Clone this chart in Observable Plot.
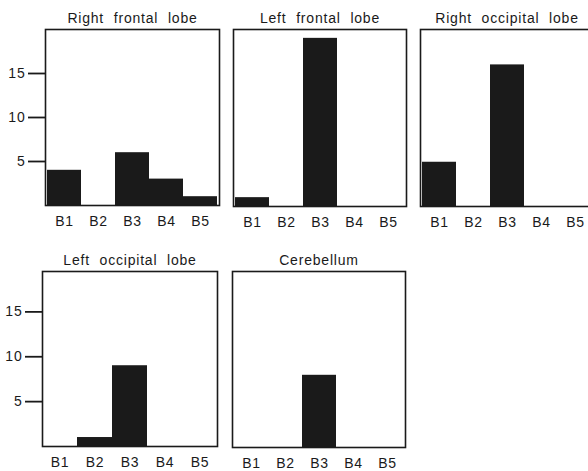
<!DOCTYPE html>
<html>
<head>
<meta charset="utf-8">
<script src="https://cdn.jsdelivr.net/npm/d3@7"></script>
<script src="https://cdn.jsdelivr.net/npm/@observablehq/plot@0.6"></script>
<style>
  html, body { margin: 0; padding: 0; background: #fff; }
  #wrap { position: relative; width: 588px; height: 471px; overflow: hidden; background: #fff; }
  #wrap svg { position: absolute; overflow: visible; }
</style>
</head>
<body>
<div id="wrap"></div>
<script>
// ---- data ----
const bins = ["B1", "B2", "B3", "B4", "B5"];
const regions = ["Right frontal lobe", "Left frontal lobe", "Right occipital lobe", "Left occipital lobe", "Cerebellum"];
const rightFrontal   = [4, 0, 6, 3, 1];
const leftFrontal    = [1, 0, 19, 0, 0];
const rightOccipital = [5, 0, 16, 0, 0];
const leftOccipital  = [0, 1, 9, 0, 0];
const cerebellum     = [0, 0, 8, 0, 0];
const yTicks = [5, 10, 15];

const series = [rightFrontal, leftFrontal, rightOccipital, leftOccipital, cerebellum];

// ---- layout (frame rectangles in page pixels) ----
const layout = [
  {x0: 45,  x1: 219, y0: 29,  y1: 205, axis: true,  ymax: 20},
  {x0: 233, x1: 406, y0: 29,  y1: 206, axis: false, ymax: 20},
  {x0: 420, x1: 593, y0: 29,  y1: 206, axis: false, ymax: 20},
  {x0: 42,  x1: 217, y0: 271, y1: 446, axis: true,  ymax: 19.5},
  {x0: 232, x1: 405, y0: 271, y1: 447, axis: false, ymax: 19.5}
];

const ink = "#1a1a1a";
const mL = 48, mT = 32, mB = 32, mR = 4;
const wrap = document.getElementById("wrap");

regions.forEach((name, i) => {
  const L = layout[i];
  const data = bins.map((b, j) => ({bin: b, value: series[i][j]}));
  const marks = [
    Plot.barY(data, {x: "bin", y: "value", fill: ink, inset: 0}),
    Plot.frame({stroke: ink, strokeWidth: 1.6}),
    Plot.axisX({tickSize: 0, tickPadding: 11, label: null, fill: ink, fontSize: 14}),
    Plot.text([name], {frameAnchor: "top", dy: -7, lineAnchor: "bottom", fill: ink, fontSize: 14})
  ];
  if (L.axis) {
    marks.push(Plot.axisY({ticks: yTicks, tickSize: 17, tickPadding: 3, strokeWidth: 1.8, stroke: ink, label: null, fill: ink, fontSize: 14}));
  }
  const chart = Plot.plot({
    width: mL + (L.x1 - L.x0) + mR,
    height: mT + (L.y1 - L.y0) + mB,
    marginLeft: mL, marginRight: mR, marginTop: mT, marginBottom: mB,
    style: {fontFamily: "'Liberation Sans', Arial, Helvetica, sans-serif", fontSize: "14px", letterSpacing: "0.8px", wordSpacing: "5px", color: ink, background: "transparent"},
    x: {type: "band", domain: bins, padding: 0},
    y: {domain: [0, L.ymax], axis: null},
    marks
  });
  chart.style.left = (L.x0 - mL) + "px";
  chart.style.top = (L.y0 - mT) + "px";
  wrap.appendChild(chart);
});
</script>
</body>
</html>
